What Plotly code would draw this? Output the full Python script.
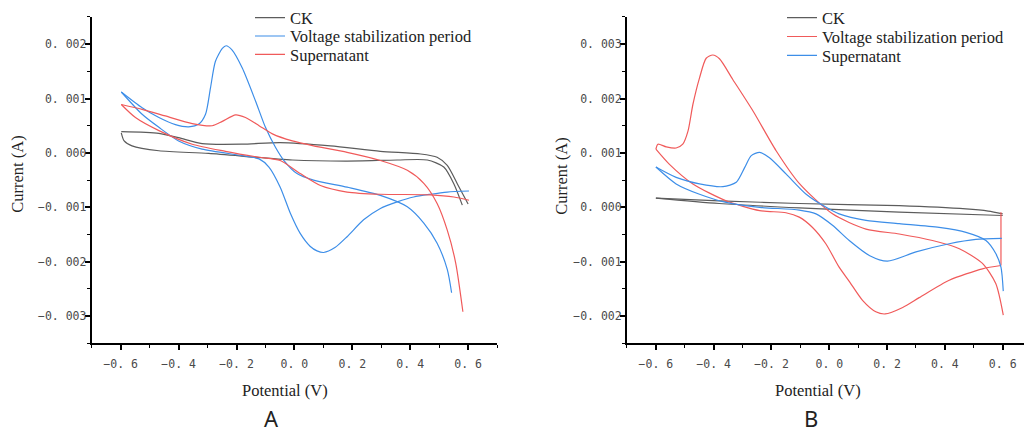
import plotly.graph_objects as go

# ---------------- Panel A (currents in mA, converted to A below) ----------------
# CK
a_ck_fwd_v = [-0.598, -0.468, -0.4, -0.319, -0.18, -0.049, 0.124, 0.297, 0.436, 0.493, 0.528, 0.563, 0.6]
a_ck_fwd_i = [0.39, 0.36, 0.28, 0.17, 0.16, 0.19, 0.13, 0.03, -0.02, -0.08, -0.23, -0.57, -0.94]
a_ck_ret_v = [0.58, 0.551, 0.516, 0.459, 0.355, 0.182, -0.007, -0.296, -0.468, -0.561, -0.588, -0.598]
a_ck_ret_i = [-0.96, -0.57, -0.26, -0.13, -0.13, -0.15, -0.13, -0.01, 0.04, 0.13, 0.22, 0.37]

# Voltage stabilization period
a_vs_fwd_v = [-0.598, -0.526, -0.468, -0.411, -0.365, -0.33, -0.307, -0.29, -0.273, -0.249, -0.236, -0.215, -0.18, -0.134, -0.1, -0.065, -0.036, 0.009, 0.066, 0.182, 0.297, 0.39, 0.447, 0.493, 0.528, 0.543]
a_vs_fwd_i = [1.12, 0.83, 0.65, 0.52, 0.48, 0.53, 0.71, 1.19, 1.68, 1.92, 1.97, 1.89, 1.56, 0.95, 0.47, 0.10, -0.14, -0.38, -0.50, -0.63, -0.78, -0.99, -1.29, -1.66, -2.14, -2.57]
a_vs_ret_v = [0.603, 0.528, 0.47, 0.412, 0.355, 0.297, 0.239, 0.182, 0.14, 0.101, 0.078, 0.055, 0.02, -0.014, -0.049, -0.088, -0.122, -0.18, -0.319, -0.4, -0.468, -0.526, -0.598]
a_vs_ret_i = [-0.70, -0.72, -0.76, -0.81, -0.90, -1.02, -1.23, -1.54, -1.74, -1.83, -1.80, -1.72, -1.48, -1.11, -0.63, -0.26, -0.11, -0.05, 0.07, 0.22, 0.47, 0.71, 1.12]

# Supernatant
a_sn_fwd_v = [-0.598, -0.526, -0.446, -0.353, -0.284, -0.249, -0.203, -0.169, -0.122, -0.076, -0.007, 0.066, 0.182, 0.297, 0.39, 0.447, 0.493, 0.528, 0.557, 0.582]
a_sn_fwd_i = [0.89, 0.80, 0.68, 0.54, 0.50, 0.58, 0.70, 0.65, 0.50, 0.35, 0.22, 0.13, 0.01, -0.14, -0.32, -0.56, -0.93, -1.42, -2.02, -2.92]
a_sn_ret_v = [0.603, 0.551, 0.47, 0.297, 0.182, 0.09, 0.02, -0.049, -0.122, -0.238, -0.353, -0.468, -0.549, -0.598]
a_sn_ret_i = [-0.87, -0.81, -0.77, -0.76, -0.72, -0.60, -0.38, -0.14, -0.08, 0.03, 0.16, 0.41, 0.65, 0.89]

# ---------------- Panel B ----------------
# CK
b_ck_fwd_v = [-0.6, -0.381, -0.104, 0.242, 0.473, 0.55, 0.6]
b_ck_fwd_i = [0.17, 0.12, 0.07, 0.03, -0.03, -0.07, -0.12]
b_ck_ret_v = [0.6, 0.242, -0.104, -0.381, -0.6]
b_ck_ret_i = [-0.15, -0.09, -0.01, 0.07, 0.17]

# Voltage stabilization period
b_vs_fwd_v = [-0.6, -0.593, -0.564, -0.53, -0.507, -0.489, -0.472, -0.449, -0.426, -0.403, -0.38, -0.334, -0.264, -0.184, -0.104, 0.011, 0.127, 0.242, 0.357, 0.45, 0.53, 0.576, 0.602]
b_vs_fwd_i = [1.07, 1.16, 1.11, 1.09, 1.16, 1.40, 1.89, 2.38, 2.74, 2.80, 2.73, 2.35, 1.77, 1.04, 0.44, -0.12, -0.40, -0.49, -0.61, -0.76, -1.03, -1.40, -1.98]
b_vs_step_v = [0.594, 0.594]
b_vs_step_i = [-0.09, -1.07]
b_vs_ret_v = [0.594, 0.53, 0.415, 0.311, 0.254, 0.193, 0.161, 0.115, 0.069, 0.034, -0.012, -0.058, -0.104, -0.15, -0.241, -0.357, -0.472, -0.553, -0.6]
b_vs_ret_i = [-1.07, -1.13, -1.34, -1.66, -1.84, -1.96, -1.92, -1.71, -1.36, -1.10, -0.67, -0.37, -0.18, -0.10, -0.06, 0.12, 0.43, 0.79, 1.07]

# Supernatant
b_sn_fwd_v = [-0.6, -0.53, -0.449, -0.368, -0.322, -0.293, -0.27, -0.241, -0.207, -0.149, -0.08, -0.011, 0.034, 0.127, 0.242, 0.38, 0.473, 0.542, 0.576, 0.594, 0.602]
b_sn_fwd_i = [0.74, 0.55, 0.43, 0.38, 0.46, 0.73, 0.95, 1.01, 0.91, 0.61, 0.24, 0.0, -0.12, -0.24, -0.30, -0.37, -0.46, -0.61, -0.85, -1.10, -1.54]
b_sn_ret_v = [0.597, 0.507, 0.415, 0.30, 0.201, 0.14, 0.069, 0.011, -0.046, -0.104, -0.241, -0.357, -0.449, -0.53, -0.6]
b_sn_ret_i = [-0.57, -0.59, -0.67, -0.82, -0.99, -0.89, -0.61, -0.33, -0.12, -0.05, 0.0, 0.09, 0.24, 0.43, 0.74]

x_tickvals = [-0.6, -0.4, -0.2, 0.0, 0.2, 0.4, 0.6]
x_ticktext = ["\u22120. 6", "\u22120. 4", "\u22120. 2", "0. 0", "0. 2", "0. 4", "0. 6"]
a_y_tickvals = [0.002, 0.001, 0.0, -0.001, -0.002, -0.003]
a_y_ticktext = ["0. 002", "0. 001", "0. 000", "\u22120. 001", "\u22120. 002", "\u22120. 003"]
b_y_tickvals = [0.003, 0.002, 0.001, 0.0, -0.001, -0.002]
b_y_ticktext = ["0. 003", "0. 002", "0. 001", "0. 000", "\u22120. 001", "\u22120. 002"]

GRAY = "#5c5c5c"
BLUE = "#3d8ee8"
RED = "#f05a5a"

W = 1024.0
H = 435.0


def amps(ma):
    return [v / 1000.0 for v in ma]


fig = go.Figure()


def add_branch(v, i_ma, color, name, xa, ya, legend, show, shape="spline"):
    fig.add_trace(go.Scatter(
        x=v, y=amps(i_ma), mode="lines", name=name,
        line=dict(color=color, width=1.2, shape=shape, smoothing=0.7),
        xaxis=xa, yaxis=ya, legend=legend, legendgroup=legend,
        showlegend=show, hoverinfo="skip",
    ))


# Panel A traces (one legend box per entry so the rows can be placed freely)
add_branch(a_ck_fwd_v, a_ck_fwd_i, GRAY, "CK", "x", "y", "legend", True)
add_branch(a_ck_ret_v, a_ck_ret_i, GRAY, "CK", "x", "y", "legend", False)
add_branch(a_vs_fwd_v, a_vs_fwd_i, BLUE, "Voltage stabilization period", "x", "y", "legend2", True)
add_branch(a_vs_ret_v, a_vs_ret_i, BLUE, "Voltage stabilization period", "x", "y", "legend2", False)
add_branch(a_sn_fwd_v, a_sn_fwd_i, RED, "Supernatant", "x", "y", "legend3", True)
add_branch(a_sn_ret_v, a_sn_ret_i, RED, "Supernatant", "x", "y", "legend3", False)

# Panel B traces
add_branch(b_ck_fwd_v, b_ck_fwd_i, GRAY, "CK", "x2", "y2", "legend4", True)
add_branch(b_ck_ret_v, b_ck_ret_i, GRAY, "CK", "x2", "y2", "legend4", False)
add_branch(b_vs_fwd_v, b_vs_fwd_i, RED, "Voltage stabilization period", "x2", "y2", "legend5", True)
add_branch(b_vs_step_v, b_vs_step_i, RED, "Voltage stabilization period", "x2", "y2", "legend5", False, "linear")
add_branch(b_vs_ret_v, b_vs_ret_i, RED, "Voltage stabilization period", "x2", "y2", "legend5", False)
add_branch(b_sn_fwd_v, b_sn_fwd_i, BLUE, "Supernatant", "x2", "y2", "legend6", True)
add_branch(b_sn_ret_v, b_sn_ret_i, BLUE, "Supernatant", "x2", "y2", "legend6", False)

tick_font = dict(family="DejaVu Sans Mono", size=11.5, color="#4a4a4a")
minor_x = dict(tickmode="linear", tick0=0, dtick=0.1, ticklen=3, tickwidth=1.2,
               tickcolor="black", ticks="outside")
minor_y = dict(tickmode="linear", tick0=0, dtick=0.0005, ticklen=3, tickwidth=1.2,
               tickcolor="black", ticks="outside")
axis_common = dict(
    showline=True, linecolor="black", linewidth=2, showgrid=False, zeroline=False,
    ticks="outside", ticklen=5, tickwidth=1.5, tickcolor="black",
    tickfont=tick_font, tickmode="array",
)
x_common = dict(axis_common, minor=minor_x, ticklabelstandoff=4)
y_common = dict(axis_common, minor=minor_y, ticklabelstandoff=-4)

Y_DOM = [0.2122, 0.9678]

legend_font = dict(family="Liberation Serif", size=16.5, color="#222222")


def legend_box(x_px, y_px):
    return dict(x=x_px / W, y=1 - y_px / H, xanchor="left", yanchor="middle",
                bgcolor="rgba(0,0,0,0)", borderwidth=0, font=legend_font)


fig.update_layout(
    width=1024, height=435,
    margin=dict(l=0, r=0, t=0, b=0),
    paper_bgcolor="white", plot_bgcolor="white",
    xaxis=dict(x_common, domain=[0.0896, 0.4854], range=[-0.7, 0.7],
               tickvals=x_tickvals, ticktext=x_ticktext, anchor="y"),
    yaxis=dict(y_common, domain=Y_DOM, range=[-0.0035, 0.0025],
               tickvals=a_y_tickvals, ticktext=a_y_ticktext, anchor="x"),
    xaxis2=dict(x_common, domain=[0.6123, 1.0], range=[-0.7, 0.6737],
                tickvals=x_tickvals, ticktext=x_ticktext, anchor="y2"),
    yaxis2=dict(y_common, domain=Y_DOM, range=[-0.0025, 0.0035],
                tickvals=b_y_tickvals, ticktext=b_y_ticktext, anchor="x2"),
    legend=legend_box(250, 15),
    legend2=legend_box(250, 33.5),
    legend3=legend_box(250, 52),
    legend4=legend_box(782, 15),
    legend5=legend_box(782, 34),
    legend6=legend_box(782, 53),
    showlegend=True,
)

title_font = dict(family="Liberation Serif", size=16.5, color="#222222")
panel_font = dict(family="Noto Sans", size=22, color="#222222")
annotations = [
    dict(text="Current (A)", x=18 / W, y=1 - 173 / H, textangle=-90, font=title_font,
         yanchor="middle"),
    dict(text="Potential (V)", x=285 / W, y=1 - 390 / H, font=title_font, yanchor="middle"),
    dict(text="A", x=271 / W, y=0.0, font=panel_font, yanchor="bottom"),
    dict(text="Current (A)", x=562 / W, y=1 - 175 / H, textangle=-90, font=title_font,
         yanchor="middle"),
    dict(text="Potential (V)", x=818 / W, y=1 - 390 / H, font=title_font, yanchor="middle"),
    dict(text="B", x=811 / W, y=0.0, font=panel_font, yanchor="bottom"),
]
for a in annotations:
    a.update(xref="paper", yref="paper", showarrow=False, xanchor="center")
fig.update_layout(annotations=annotations)

fig.write_html("out.html")
